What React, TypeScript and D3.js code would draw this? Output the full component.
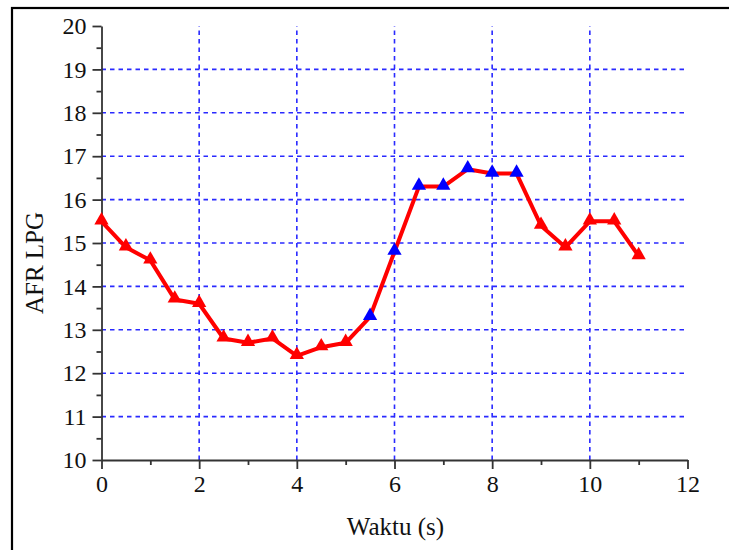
import React, { useEffect, useRef } from "react";
import * as d3 from "d3";

// waktu (s)
const times = [0, 0.5, 1, 1.5, 2, 2.5, 3, 3.5, 4, 4.5, 5, 5.5, 6, 6.5, 7, 7.5, 8, 8.5, 9, 9.5, 10, 10.5, 11];
// AFR LPG
const afrValues = [15.5, 14.9, 14.6, 13.7, 13.6, 12.8, 12.7, 12.8, 12.4, 12.6, 12.7, 13.3, 14.8, 16.3, 16.3, 16.7, 16.6, 16.6, 15.4, 14.9, 15.5, 15.5, 14.7];
// titik yang ditandai biru
const blueTimes = [5.5, 6, 6.5, 7, 7.5, 8, 8.5];

const xTicks = [0, 2, 4, 6, 8, 10, 12];
const xMinorTicks = [1, 3, 5, 7, 9, 11];
const yTicks = [10, 11, 12, 13, 14, 15, 16, 17, 18, 19, 20];
const yMinorTicks = [10.5, 11.5, 12.5, 13.5, 14.5, 15.5, 16.5, 17.5, 18.5, 19.5];

const App = () => {
  const ref = useRef<SVGSVGElement>(null);

  useEffect(() => {
    const svg = d3.select(ref.current);
    svg.selectAll("*").remove();

    const left = 101.5, right = 687.5, top = 26, bottom = 460;
    const font = "'Liberation Serif', 'Times New Roman', serif";

    const x = d3.scaleLinear().domain([0, 12]).range([left, right]);
    const y = d3.scaleLinear().domain([10, 20]).range([bottom, top]);

    // bingkai luar
    svg.append("rect")
      .attr("x", 12).attr("y", 8)
      .attr("width", 760).attr("height", 600)
      .attr("fill", "none").attr("stroke", "#000").attr("stroke-width", 2.2);

    // grid
    const grid = svg.append("g")
      .attr("stroke", "#2a2aff").attr("stroke-width", 1.6)
      .attr("stroke-dasharray", "4.5 4");
    grid.selectAll(".gx").data(xTicks.filter(d => d > 0 && d < 12)).enter()
      .append("line")
      .attr("x1", d => x(d)).attr("x2", d => x(d))
      .attr("y1", bottom).attr("y2", top);
    grid.selectAll(".gy").data(yTicks.filter(d => d > 10 && d < 20)).enter()
      .append("line")
      .attr("x1", left).attr("x2", right)
      .attr("y1", d => y(d)).attr("y2", d => y(d));

    // sumbu X
    const xAxis = svg.append("g").attr("transform", `translate(0,${bottom})`);
    xAxis.call(d3.axisBottom(x).tickValues(xMinorTicks).tickSize(5).tickFormat(() => ""));
    xAxis.call(g => g.select(".domain").remove());
    const xMajor = svg.append("g").attr("transform", `translate(0,${bottom})`)
      .call(d3.axisBottom(x).tickValues(xTicks).tickSize(9).tickSizeOuter(0).tickPadding(6).tickFormat(d3.format("d")));

    // sumbu Y
    const yAxis = svg.append("g").attr("transform", `translate(${left},0)`);
    yAxis.call(d3.axisLeft(y).tickValues(yMinorTicks).tickSize(5).tickFormat(() => ""));
    yAxis.call(g => g.select(".domain").remove());
    const yMajor = svg.append("g").attr("transform", `translate(${left},0)`)
      .call(d3.axisLeft(y).tickValues(yTicks).tickSize(9).tickSizeOuter(0).tickPadding(6).tickFormat(d3.format("d")));

    svg.selectAll(".domain, .tick line").attr("stroke", "#333").attr("stroke-width", 1.8);
    [xMajor, yMajor].forEach(g =>
      g.selectAll("text").attr("font-family", font).attr("font-size", 24).attr("fill", "#111"));

    // garis data
    const data = times.map((t, i) => ({ t, v: afrValues[i] }));
    const line = d3.line<{ t: number; v: number }>().x(d => x(d.t)).y(d => y(d.v));
    svg.append("path")
      .datum(data)
      .attr("d", line)
      .attr("fill", "none")
      .attr("stroke", "#ff0000")
      .attr("stroke-width", 4)
      .attr("stroke-linejoin", "round");

    const tri = d3.symbol().type(d3.symbolTriangle).size(88);
    svg.selectAll(".pt").data(data).enter()
      .append("path")
      .attr("d", tri)
      .attr("transform", d => `translate(${x(d.t)},${y(d.v) - 1})`)
      .attr("fill", d => (blueTimes.includes(d.t) ? "#0000ff" : "#ff0000"));

    // judul sumbu
    svg.append("text")
      .attr("x", (left + right) / 2 + 1).attr("y", 535)
      .attr("text-anchor", "middle")
      .attr("font-family", font).attr("font-size", 25).attr("fill", "#111")
      .text("Waktu (s)");
    svg.append("text")
      .attr("transform", `translate(43,${(top + bottom) / 2 + 20}) rotate(-90)`)
      .attr("text-anchor", "middle")
      .attr("font-family", font).attr("font-size", 25).attr("fill", "#111")
      .text("AFR LPG");
  }, []);

  return (
    <svg ref={ref} width={729} height={550}
      style={{ position: "absolute", left: 0, top: 0, background: "#fff" }} />
  );
};

export default App;
